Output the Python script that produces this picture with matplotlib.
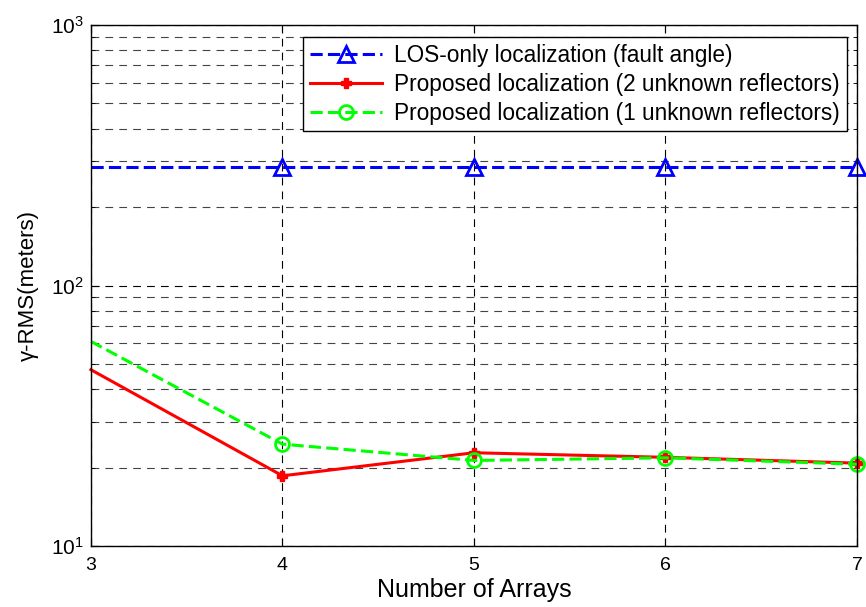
import matplotlib
matplotlib.use("Agg")
import matplotlib.pyplot as plt
from matplotlib.ticker import LogLocator, NullFormatter

plt.rcParams['font.family'] = ['Liberation Sans', 'DejaVu Sans']
plt.rcParams['mathtext.fontset'] = 'custom'
plt.rcParams['mathtext.rm'] = 'Liberation Sans'
plt.rcParams['mathtext.it'] = 'Liberation Sans:italic'
plt.rcParams['mathtext.bf'] = 'Liberation Sans:bold'

arrays = [3, 4, 5, 6, 7]
los_only = [285, 285, 285, 285, 285]
proposed_2 = [47.5, 18.6, 22.8, 21.9, 20.8]
proposed_1 = [61.0, 24.6, 21.3, 21.8, 20.6]
labels = ["LOS-only localization (fault angle)",
          "Proposed localization (2 unknown reflectors)",
          "Proposed localization (1 unknown reflectors)"]

fig = plt.figure(figsize=(8.66, 6.07), dpi=100)
ax = fig.add_axes([0.105, 0.1005, 0.8846, 0.8583])

ax.plot(arrays, los_only, color='#0000ff', ls=(0, (4, 1.7)), lw=2.2, marker='^',
        ms=11, mfc='none', mew=2, markevery=[1, 2, 3, 4], label=labels[0], clip_on=False)
ax.plot(arrays, proposed_2, color='#ff0000', ls='-', lw=2.2, marker='P',
        ms=7, markevery=[1, 2, 3, 4], label=labels[1], clip_on=False)
ax.plot(arrays, proposed_1, color='#00ff00', ls=(0, (4, 1.7)), lw=2.2, marker='o',
        ms=10, mfc='none', mew=2, markevery=[1, 2, 3, 4], label=labels[2], clip_on=False)

ax.set_yscale('log')
ax.set_xlim(3, 7)
ax.set_ylim(10, 1000)
ax.set_xticks(arrays)
ax.yaxis.set_major_locator(LogLocator(base=10, numticks=5))
ax.yaxis.set_minor_locator(LogLocator(base=10, subs=range(2, 10), numticks=20))
ax.yaxis.set_minor_formatter(NullFormatter())

ax.grid(True, which='major', color='black', ls=(0, (7, 5.5)), lw=0.8)
ax.grid(True, which='minor', axis='y', color='#444444', ls=(0, (7, 5.5)), lw=0.8)
ax.tick_params(which='both', direction='in', top=True, right=True, labelsize=14)
ax.tick_params(axis='x', pad=8)
ax.tick_params(axis='y', pad=5, labelsize=15)
ax.tick_params(which='major', length=6)
ax.tick_params(which='minor', length=3)
for s in ax.spines.values():
    s.set_linewidth(1.0)

ax.set_xlabel("Number of Arrays", fontsize=18, labelpad=3)
ax.set_ylabel("γ-RMS(meters)", fontsize=16, labelpad=9)

leg = ax.legend(loc='upper right', bbox_to_anchor=(847 / 866, 1 - 37 / 607),
                bbox_transform=fig.transFigure, fontsize=16.3, fancybox=False,
                framealpha=1, edgecolor='black', borderaxespad=0, handlelength=3.2,
                handletextpad=0.55, labelspacing=0.26, borderpad=0.3)
leg.get_frame().set_linewidth(1.0)

fig.savefig("out.png", dpi=100)
